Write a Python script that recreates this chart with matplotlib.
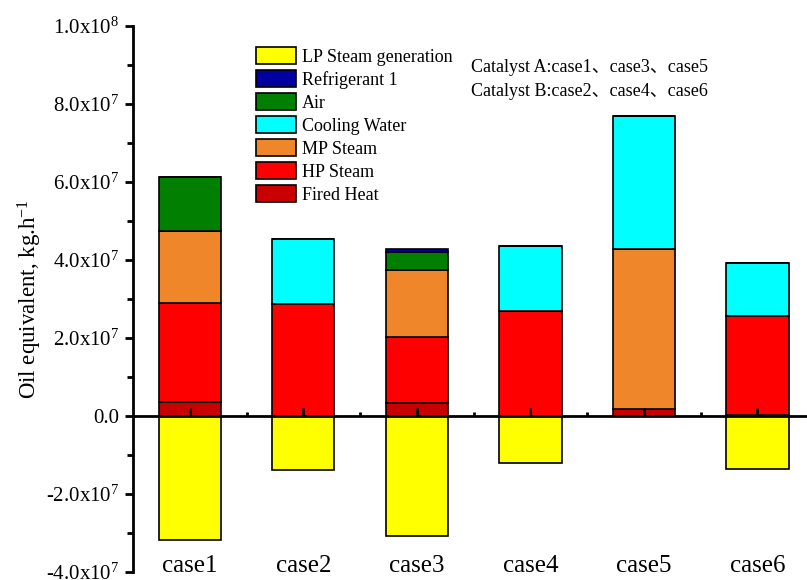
import numpy as np
import matplotlib
matplotlib.use("Agg")
import matplotlib.pyplot as plt
from matplotlib.ticker import MultipleLocator, FixedLocator

plt.rcParams['font.family'] = ['Liberation Serif', 'Noto Sans CJK SC']
plt.rcParams['mathtext.fontset'] = 'custom'
plt.rcParams['mathtext.rm'] = 'Liberation Serif'
plt.rcParams['mathtext.it'] = 'Liberation Serif:italic'

cases = ['case1', 'case2', 'case3', 'case4', 'case5', 'case6']

# utility contributions (kg/h oil equivalent), stacked bottom to top
fired_heat = [3.7e6, 0.0, 3.3e6, 0.0, 1.8e6, 3.0e5]
hp_steam = [2.53e7, 2.87e7, 1.70e7, 2.69e7, 0.0, 2.53e7]
mp_steam = [1.84e7, 0.0, 1.71e7, 0.0, 4.09e7, 0.0]
cooling_water = [0.0, 1.67e7, 0.0, 1.67e7, 3.42e7, 1.37e7]
air = [1.39e7, 0.0, 4.6e6, 0.0, 0.0, 0.0]
refrigerant = [0.0, 0.0, 7.0e5, 0.0, 0.0, 0.0]
# steam generated is a credit, drawn below zero
lp_generation = [-3.18e7, -1.38e7, -3.08e7, -1.21e7, 0.0, -1.36e7]

stack = [
    ('Fired Heat', fired_heat, '#c80000'),
    ('HP Steam', hp_steam, '#ff0000'),
    ('MP Steam', mp_steam, '#f0862a'),
    ('Cooling Water', cooling_water, '#00ffff'),
    ('Air', air, '#007f00'),
    ('Refrigerant 1', refrigerant, '#0000a0'),
]
lp_color = '#ffff00'

fig = plt.figure(figsize=(8.07, 5.80), dpi=100)
ax = fig.add_axes([0.1648, 0.0138, 0.844, 0.9414])

x = np.arange(1, len(cases) + 1)
width = 0.55
handles = {}
bottom = np.zeros(len(cases))
for name, vals, col in stack:
    vals = np.array(vals)
    b = ax.bar(x, vals, width, bottom=bottom, color=col, edgecolor='black', linewidth=1.2)
    handles[name] = b
    bottom += vals
handles['LP Steam generation'] = ax.bar(x, lp_generation, width, color=lp_color,
                                        edgecolor='black', linewidth=1.2)

ax.set_xlim(0.5, 6.5)
ax.set_ylim(-4e7, 1e8)

ax.spines['top'].set_visible(False)
ax.spines['right'].set_visible(False)
ax.spines['bottom'].set_position(('data', 0))
ax.spines['bottom'].set_linewidth(2)
ax.spines['left'].set_linewidth(2)
ax.spines['bottom'].set_zorder(5)

ax.set_xticks(x)
ax.set_xticklabels(cases, fontsize=18)
ax.xaxis.set_minor_locator(FixedLocator(x[:-1] + 0.5))
ax.tick_params(axis='x', which='major', direction='in', length=6, width=2, pad=100)
ax.tick_params(axis='x', which='minor', direction='in', length=3, width=2)

yt = np.arange(-4e7, 1.01e8, 2e7)
ax.set_yticks(yt)
labels = []
for v in yt:
    if v == 0:
        labels.append('0.0')
    else:
        e = int(np.floor(np.log10(abs(v))))
        m = v / 10 ** e
        labels.append(r'%.1fx10$^{%d}$' % (m, e))
ax.set_yticklabels(labels, fontsize=15)
ax.yaxis.set_minor_locator(MultipleLocator(1e7))
ax.tick_params(axis='y', which='major', direction='out', length=6, width=2, pad=4)
ax.tick_params(axis='y', which='minor', direction='out', length=4, width=2)

ax.set_ylabel(r'Oil equivalent, kg.h$^{-1}$', fontsize=16.5, labelpad=1)

order = ['LP Steam generation', 'Refrigerant 1', 'Air', 'Cooling Water',
         'MP Steam', 'HP Steam', 'Fired Heat']
ax.legend([handles[n] for n in order], order, loc='upper left',
          bbox_to_anchor=(256 / 807, 1 - 47 / 580), bbox_transform=fig.transFigure,
          frameon=False, fontsize=13, handlelength=2.2, handleheight=1.1,
          labelspacing=0.23, handletextpad=0.35, borderpad=0, borderaxespad=0)

fig.text(471 / 807, 1 - 68 / 580, 'Catalyst A:case1、case3、case5',
         fontsize=13, va='center', ha='left')
fig.text(471 / 807, 1 - 92 / 580, 'Catalyst B:case2、case4、case6',
         fontsize=13, va='center', ha='left')

fig.savefig('out.png', dpi=100)
